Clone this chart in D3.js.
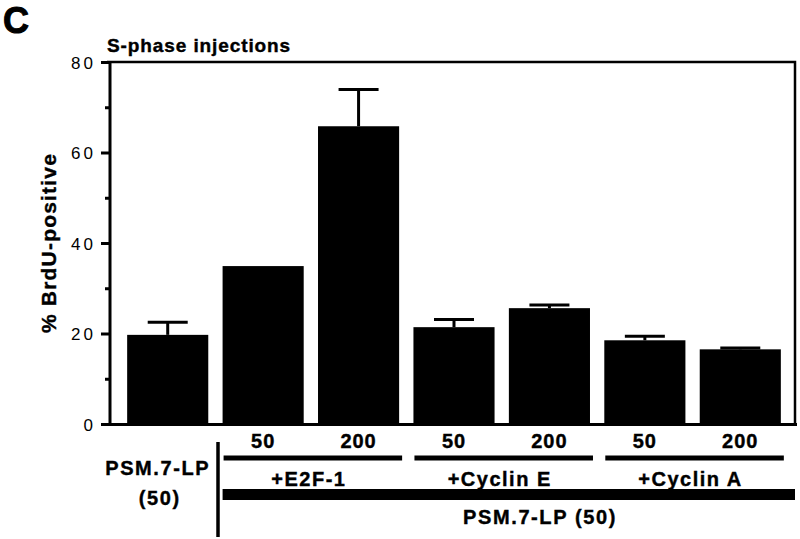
<!DOCTYPE html>
<html>
<head>
<meta charset="utf-8">
<script src="https://cdn.jsdelivr.net/npm/d3@7"></script>
<style>
  body { margin: 0; background: #fff; }
  svg { display: block; font-family: "Liberation Sans", Arial, Helvetica, sans-serif; }
  .bold { font-weight: bold; stroke: #000; stroke-width: 0.4px; }
</style>
</head>
<body>
<script>
// bar data
var categories = ["PSM", "E2F-50", "E2F-200", "CycE-50", "CycE-200", "CycA-50", "CycA-200"];
var means = [19.7, 34.9, 65.8, 21.4, 25.6, 18.5, 16.5];
var errors = [2.8, 0, 8.1, 1.7, 0.7, 0.9, 0.3];
var doses = ["", "50", "200", "50", "200", "50", "200"];
var groupLabels = ["+E2F-1", "+Cyclin E", "+Cyclin A"];
var groupMembers = [["E2F-50", "E2F-200"], ["CycE-50", "CycE-200"], ["CycA-50", "CycA-200"]];

var width = 800, height = 539;
var plotTop = 62, plotBottom = 424, plotLeft = 110, plotRight = 795;

var svg = d3.select("body").append("svg")
    .attr("width", width)
    .attr("height", height);

var x = d3.scaleBand()
    .domain(categories)
    .range([120, 788])
    .paddingInner(0.15)
    .paddingOuter(0.075);

var y = d3.scaleLinear()
    .domain([0, 80])
    .range([plotBottom, plotTop]);

// panel letter + title
svg.append("text").attr("class", "bold")
    .attr("x", 3).attr("y", 33)
    .style("font-size", "36px")
    .style("stroke-width", "1px")
    .text("C");

svg.append("text").attr("class", "bold")
    .attr("x", 107).attr("y", 52)
    .style("font-size", "19px")
    .style("letter-spacing", "0.9px")
    .text("S-phase injections");

// frame: top and right lines
svg.append("path")
    .attr("d", "M" + (plotLeft - 3) + "," + plotTop + "H" + plotRight + "V" + plotBottom)
    .attr("fill", "none")
    .attr("stroke", "#000")
    .attr("stroke-width", 2.5);

// y axis with minor ticks
var yAxis = d3.axisLeft(y)
    .tickValues(d3.range(0, 81, 10))
    .tickSize(8)
    .tickFormat(function(d) { return d % 20 === 0 ? d : ""; });

var ga = svg.append("g")
    .attr("transform", "translate(" + plotLeft + ",0)")
    .call(yAxis);
ga.select(".domain").remove();
ga.selectAll(".tick line")
    .attr("stroke-width", 3)
    .attr("x2", function(d) { return d % 20 === 0 ? -9 : -5; });
ga.selectAll(".tick text")
    .attr("x", -14)
    .attr("dy", "0.36em")
    .style("font-size", "17px")
    .style("letter-spacing", "3px")
    .style("fill", "#000");

svg.append("line")
    .attr("x1", plotLeft).attr("x2", plotLeft)
    .attr("y1", plotTop).attr("y2", plotBottom)
    .attr("stroke", "#000").attr("stroke-width", 3);
svg.append("line")
    .attr("x1", plotLeft - 8).attr("x2", 797)
    .attr("y1", plotBottom + 0.5).attr("y2", plotBottom + 0.5)
    .attr("stroke", "#000").attr("stroke-width", 3);

// y label
svg.append("text").attr("class", "bold")
    .attr("transform", "translate(56," + ((plotTop + plotBottom) / 2) + ") rotate(-90)")
    .attr("text-anchor", "middle")
    .style("font-size", "21px")
    .style("letter-spacing", "1.2px")
    .text("% BrdU-positive");

// bars
svg.selectAll("rect.bar")
    .data(categories)
    .enter().append("rect")
    .attr("class", "bar")
    .attr("x", function(d) { return x(d); })
    .attr("width", x.bandwidth())
    .attr("y", function(d, i) { return y(means[i]); })
    .attr("height", function(d, i) { return plotBottom - y(means[i]); })
    .attr("fill", "#000");

// error bars (upper only)
var eb = svg.selectAll("g.err")
    .data(categories)
    .enter().append("g")
    .attr("class", "err")
    .filter(function(d, i) { return errors[i] > 0; });

eb.append("line")
    .attr("x1", function(d) { return x(d) + x.bandwidth() / 2; })
    .attr("x2", function(d) { return x(d) + x.bandwidth() / 2; })
    .attr("y1", function(d) { return y(means[categories.indexOf(d)]); })
    .attr("y2", function(d) { var i = categories.indexOf(d); return y(means[i] + errors[i]); })
    .attr("stroke", "#000").attr("stroke-width", 3);

eb.append("line")
    .attr("x1", function(d) { return x(d) + x.bandwidth() / 2 - 20; })
    .attr("x2", function(d) { return x(d) + x.bandwidth() / 2 + 20; })
    .attr("y1", function(d) { var i = categories.indexOf(d); return y(means[i] + errors[i]); })
    .attr("y2", function(d) { var i = categories.indexOf(d); return y(means[i] + errors[i]); })
    .attr("stroke", "#000").attr("stroke-width", 3);

// dose labels
svg.selectAll("text.dose")
    .data(categories)
    .enter().append("text")
    .attr("class", "dose bold")
    .attr("x", function(d) { return x(d) + x.bandwidth() / 2; })
    .attr("y", 448)
    .attr("text-anchor", "middle")
    .style("font-size", "20px")
    .style("letter-spacing", "1px")
    .text(function(d, i) { return doses[i]; });

// group lines + labels
groupMembers.forEach(function(g, k) {
    var x0 = x(g[0]) + 1, x1 = x(g[1]) + x.bandwidth() + 3;
    svg.append("line")
        .attr("x1", x0).attr("x2", x1)
        .attr("y1", 458).attr("y2", 458)
        .attr("stroke", "#000").attr("stroke-width", 5);
    svg.append("text").attr("class", "bold")
        .attr("x", (x0 + x1) / 2 - 4).attr("y", 486)
        .attr("text-anchor", "middle")
        .style("font-size", "20px")
        .style("letter-spacing", "1.5px")
        .text(groupLabels[k]);
});

// PSM.7-LP bar spanning treated samples
svg.append("rect")
    .attr("x", x(categories[1]))
    .attr("y", 489)
    .attr("width", 795 - x(categories[1]))
    .attr("height", 11)
    .attr("fill", "#000");

svg.append("text").attr("class", "bold")
    .attr("x", 540).attr("y", 524)
    .attr("text-anchor", "middle")
    .style("font-size", "20px")
    .style("letter-spacing", "1.6px")
    .text("PSM.7-LP (50)");

// control label
var cx = x(categories[0]) + x.bandwidth() / 2 - 10;
svg.append("text").attr("class", "bold")
    .attr("x", cx).attr("y", 475)
    .attr("text-anchor", "middle")
    .style("font-size", "20px")
    .style("letter-spacing", "1.6px")
    .text("PSM.7-LP");
svg.append("text").attr("class", "bold")
    .attr("x", cx + 2).attr("y", 505)
    .attr("text-anchor", "middle")
    .style("font-size", "20px")
    .style("letter-spacing", "1.6px")
    .text("(50)");

svg.append("line")
    .attr("x1", 218).attr("x2", 218)
    .attr("y1", 442).attr("y2", 537)
    .attr("stroke", "#000").attr("stroke-width", 3.5);
</script>
</body>
</html>
